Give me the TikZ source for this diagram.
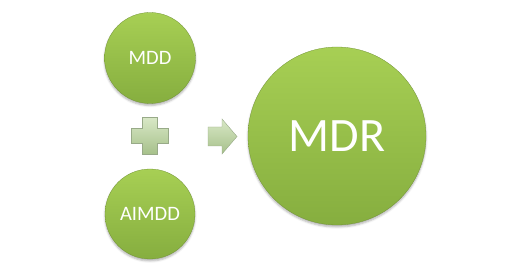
\documentclass[tikz,border=0pt]{standalone}
\usepackage{fontspec}
\setmainfont{Carlito}
\definecolor{circleTop}{HTML}{A7CF54}
\definecolor{circleBottom}{HTML}{86AE3F}
\definecolor{signTop}{HTML}{D8E8C6}
\definecolor{signBottom}{HTML}{A6C08A}
\definecolor{signEdge}{HTML}{98AA88}
\usetikzlibrary{calc, positioning, shadows.blur}

\begin{document}
\begin{tikzpicture}[x=1pt, y=-1pt,
    bubble/.style={circle, inner sep=0pt, text=white,
      top color=circleTop, bottom color=circleBottom,
      draw=circleBottom!85!black, line width=0.3pt,
      blur shadow={shadow xshift=0pt, shadow yshift=-2pt,
        shadow blur radius=2pt, shadow opacity=30}},
    sign/.style={top color=signTop, bottom color=signBottom,
      draw=signEdge, line width=0.4pt}]
  \useasboundingbox (0,0) rectangle (521,272);

  % the two sources and the result
  \node[bubble, minimum size=91pt, font=\fontsize{20.5}{24}\selectfont]
    (mdd) at (150,58) {MDD};
  \node[bubble, minimum size=90pt, font=\fontsize{20.5}{24}\selectfont]
    (aimdd) at (150,214) {AIMDD};
  \node[bubble, minimum size=178pt, font=\fontsize{48}{56}\selectfont]
    (mdr) at (337,136) {MDR};

  \coordinate (plus) at ($(mdd)!0.5!(aimdd)$);
  \coordinate (arrowmid) at (222,136);

  % plus sign
  \draw[sign] ([shift={(-7.5,-18.5)}]plus) -- ++(15,0) -- ++(0,11)
    -- ++(11,0) -- ++(0,15) -- ++(-11,0) -- ++(0,11) -- ++(-15,0)
    -- ++(0,-11) -- ++(-11,0) -- ++(0,-15) -- ++(11,0) -- cycle;

  % block arrow
  \draw[sign] ([shift={(-14,-9)}]arrowmid) -- ++(14,0) -- ++(0,-8)
    -- ++(15,17.5) -- ++(-15,17.5) -- ++(0,-8) -- ++(-14,0) -- cycle;
\end{tikzpicture}
\end{document}
